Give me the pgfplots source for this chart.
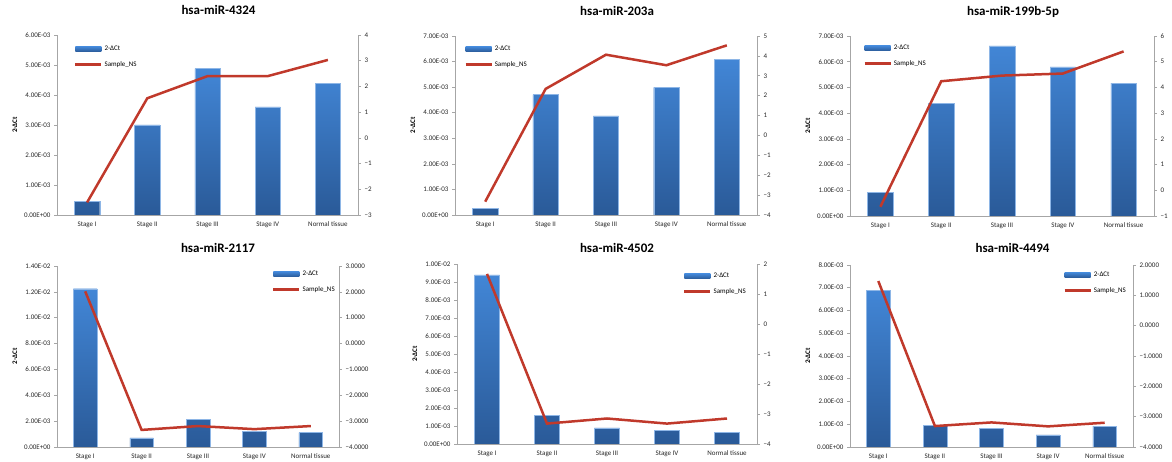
\documentclass[border=0pt]{standalone}
\usepackage{pgfplots}
\pgfplotsset{compat=1.18}
\usepackage{fontspec}
\setmainfont{Carlito}
\definecolor{barTop}{HTML}{4286D6}
\definecolor{barBot}{HTML}{2A5A98}
\definecolor{lineRed}{HTML}{C0392B}
\definecolor{axgray}{HTML}{A6A6A6}
\pgfplotsset{
  base/.style={scale only axis, xmin=-0.5, xmax=4.5,
    axis line style={draw=axgray, line width=0.8pt},
    tick align=outside, major tick length=3pt,
    tick style={draw=axgray, line width=0.6pt},
    ticklabel style={font=\fontsize{7}{8}\selectfont, text=black!85},
    scaled y ticks=false,
    /pgf/number format/assume math mode=true},
  leftax/.style={base, axis x line*=bottom, axis y line*=left,
    xtick={0,...,4}, xticklabels={Stage I,Stage II,Stage III,Stage IV,Normal tissue},
    x tick style={draw=none},
    ylabel={2-ΔCt}, ylabel style={font=\bfseries\fontsize{7}{8}\selectfont},
    title style={font=\bfseries\fontsize{13}{15}\selectfont, anchor=base, at={(0.5,1)}},
    ymin=0},
  rightax/.style={base, axis x line=none, axis y line*=right, xtick=\empty,
    legend style={draw=none, fill=none, font=\fontsize{7}{8}\selectfont,
      anchor=north west, row sep=5pt, inner sep=0pt, legend cell align=left}},
  bars/.style={ybar, bar width=0.42, draw=barTop!60!white, line width=0.4pt,
    top color=barTop, bottom color=barBot},
  nsline/.style={lineRed, line width=2.5pt, mark=none,
    legend image code/.code={\draw[lineRed, line width=2.5pt] (0pt,0pt) -- (26pt,0pt);}},
  barlegend/.style={legend image code/.code={\path[draw=none, top color=barTop, bottom color=barBot] (0pt,-2.5pt) rectangle (26pt,2.5pt);}},
}
\begin{document}
\begin{tikzpicture}
\useasboundingbox (0,0) rectangle (1172pt,462pt);
% ---------- Panel 1 ----------
\begin{axis}[leftax, at={(57pt,247pt)}, anchor=south west, width=301pt, height=180pt,
  title={hsa-miR-4324}, title style={xshift=11pt, yshift=14pt},
  ymax=6e-3, ytick={0,1e-3,2e-3,3e-3,4e-3,5e-3,6e-3},
  yticklabels={0.00E+00,1.00E-03,2.00E-03,3.00E-03,4.00E-03,5.00E-03,6.00E-03}]
\addplot[bars] coordinates {(0,4.5e-4) (1,3.0e-3) (2,4.88e-3) (3,3.6e-3) (4,4.38e-3)};
\end{axis}
\begin{axis}[rightax, at={(57pt,247pt)}, anchor=south west, width=301pt, height=180pt,
  ymin=-3, ymax=4, ytick={-3,-2,-1,0,1,2,3,4},
  yticklabels={−3,−2,−1,0,1,2,3,4},
  legend style={at={(0.056,0.95)}}]
\addlegendimage{barlegend}\addlegendentry{2-ΔCt}
\addplot[nsline] coordinates {(0,-2.51) (1,1.54) (2,2.4) (3,2.4) (4,3.03)};
\addlegendentry{Sample\_NS}
\end{axis}
% ---------- Panel 2 ----------
\begin{axis}[leftax, at={(455pt,247pt)}, anchor=south west, width=302pt, height=179pt,
  title={hsa-miR-203a}, title style={xshift=11pt, yshift=14pt},
  ymax=7e-3, ytick={0,1e-3,2e-3,3e-3,4e-3,5e-3,6e-3,7e-3},
  yticklabels={0.00E+00,1.00E-03,2.00E-03,3.00E-03,4.00E-03,5.00E-03,6.00E-03,7.00E-03}]
\addplot[bars] coordinates {(0,2.6e-4) (1,4.71e-3) (2,3.88e-3) (3,4.99e-3) (4,6.09e-3)};
\end{axis}
\begin{axis}[rightax, at={(455pt,247pt)}, anchor=south west, width=302pt, height=179pt,
  ymin=-4, ymax=5, ytick={-4,-3,-2,-1,0,1,2,3,4,5},
  yticklabels={−4,−3,−2,−1,0,1,2,3,4,5},
  legend style={at={(0.03,0.955)}}]
\addlegendimage{barlegend}\addlegendentry{2-ΔCt}
\addplot[nsline] coordinates {(0,-3.33) (1,2.34) (2,4.06) (3,3.53) (4,4.53)};
\addlegendentry{Sample\_NS}
\end{axis}
% ---------- Panel 3 ----------
\begin{axis}[leftax, at={(850pt,246pt)}, anchor=south west, width=304pt, height=180pt,
  title={hsa-miR-199b-5p}, title style={xshift=11pt, yshift=14pt},
  ymax=7e-3, ytick={0,1e-3,2e-3,3e-3,4e-3,5e-3,6e-3,7e-3},
  yticklabels={0.00E+00,1.00E-03,2.00E-03,3.00E-03,4.00E-03,5.00E-03,6.00E-03,7.00E-03}]
\addplot[bars] coordinates {(0,9.1e-4) (1,4.37e-3) (2,6.62e-3) (3,5.8e-3) (4,5.17e-3)};
\end{axis}
\begin{axis}[rightax, at={(850pt,246pt)}, anchor=south west, width=304pt, height=180pt,
  ymin=-1, ymax=6, ytick={-1,0,1,2,3,4,5,6},
  yticklabels={−1,0,1,2,3,4,5,6},
  legend style={at={(0.043,0.96)}}]
\addlegendimage{barlegend}\addlegendentry{2-ΔCt}
\addplot[nsline] coordinates {(0,-0.64) (1,4.24) (2,4.46) (3,4.54) (4,5.4)};
\addlegendentry{Sample\_NS}
\end{axis}
% ---------- Panel 4 ----------
\begin{axis}[leftax, at={(57pt,15pt)}, anchor=south west, width=282pt, height=181pt,
  title={hsa-miR-2117}, title style={xshift=20pt, yshift=7pt},
  ymax=1.4e-2, ytick={0,2e-3,4e-3,6e-3,8e-3,1e-2,1.2e-2,1.4e-2},
  yticklabels={0.00E+00,2.00E-03,4.00E-03,6.00E-03,8.00E-03,1.00E-02,1.20E-02,1.40E-02}]
\addplot[bars] coordinates {(0,1.224e-2) (1,7.0e-4) (2,2.16e-3) (3,1.21e-3) (4,1.11e-3)};
\end{axis}
\begin{axis}[rightax, at={(57pt,15pt)}, anchor=south west, width=282pt, height=181pt,
  ymin=-4, ymax=3, ytick={-4,-3,-2,-1,0,1,2,3},
  yticklabels={−4.0000,−3.0000,−2.0000,−1.0000,0.0000,1.0000,2.0000,3.0000},
  legend style={at={(0.762,0.983)}}]
\addlegendimage{barlegend}\addlegendentry{2-ΔCt}
\addplot[nsline] coordinates {(0,2.02) (1,-3.34) (2,-3.19) (3,-3.31) (4,-3.19)};
\addlegendentry{Sample\_NS}
\end{axis}
% ---------- Panel 5 ----------
\begin{axis}[leftax, at={(457pt,18pt)}, anchor=south west, width=300pt, height=180pt,
  title={hsa-miR-4502}, title style={xshift=10pt, yshift=5pt},
  ymax=1e-2, ytick={0,1e-3,2e-3,3e-3,4e-3,5e-3,6e-3,7e-3,8e-3,9e-3,1e-2},
  yticklabels={0.00E+00,1.00E-03,2.00E-03,3.00E-03,4.00E-03,5.00E-03,6.00E-03,7.00E-03,8.00E-03,9.00E-03,1.00E-02}]
\addplot[bars] coordinates {(0,9.39e-3) (1,1.58e-3) (2,8.9e-4) (3,7.6e-4) (4,6.3e-4)};
\end{axis}
\begin{axis}[rightax, at={(457pt,18pt)}, anchor=south west, width=300pt, height=180pt,
  ymin=-4, ymax=2, ytick={-4,-3,-2,-1,0,1,2},
  yticklabels={−4,−3,−2,−1,0,1,2},
  legend style={at={(0.753,0.96)}}]
\addlegendimage{barlegend}\addlegendentry{2-ΔCt}
\addplot[nsline] coordinates {(0,1.67) (1,-3.32) (2,-3.15) (3,-3.32) (4,-3.15)};
\addlegendentry{Sample\_NS}
\end{axis}
% ---------- Panel 6 ----------
\begin{axis}[leftax, at={(850pt,15pt)}, anchor=south west, width=283pt, height=182pt,
  title={hsa-miR-4494}, title style={xshift=21pt, yshift=6pt},
  ymax=8e-3, ytick={0,1e-3,2e-3,3e-3,4e-3,5e-3,6e-3,7e-3,8e-3},
  yticklabels={0.00E+00,1.00E-03,2.00E-03,3.00E-03,4.00E-03,5.00E-03,6.00E-03,7.00E-03,8.00E-03}]
\addplot[bars] coordinates {(0,6.9e-3) (1,9.5e-4) (2,8.2e-4) (3,5.3e-4) (4,9.2e-4)};
\end{axis}
\begin{axis}[rightax, at={(850pt,15pt)}, anchor=south west, width=283pt, height=182pt,
  ymin=-4, ymax=2, ytick={-4,-3,-2,-1,0,1,2},
  yticklabels={−4.0000,−3.0000,−2.0000,−1.0000,0.0000,1.0000,2.0000},
  legend style={at={(0.753,0.973)}}]
\addlegendimage{barlegend}\addlegendentry{2-ΔCt}
\addplot[nsline] coordinates {(0,1.47) (1,-3.31) (2,-3.19) (3,-3.32) (4,-3.2)};
\addlegendentry{Sample\_NS}
\end{axis}
\end{tikzpicture}
\end{document}
